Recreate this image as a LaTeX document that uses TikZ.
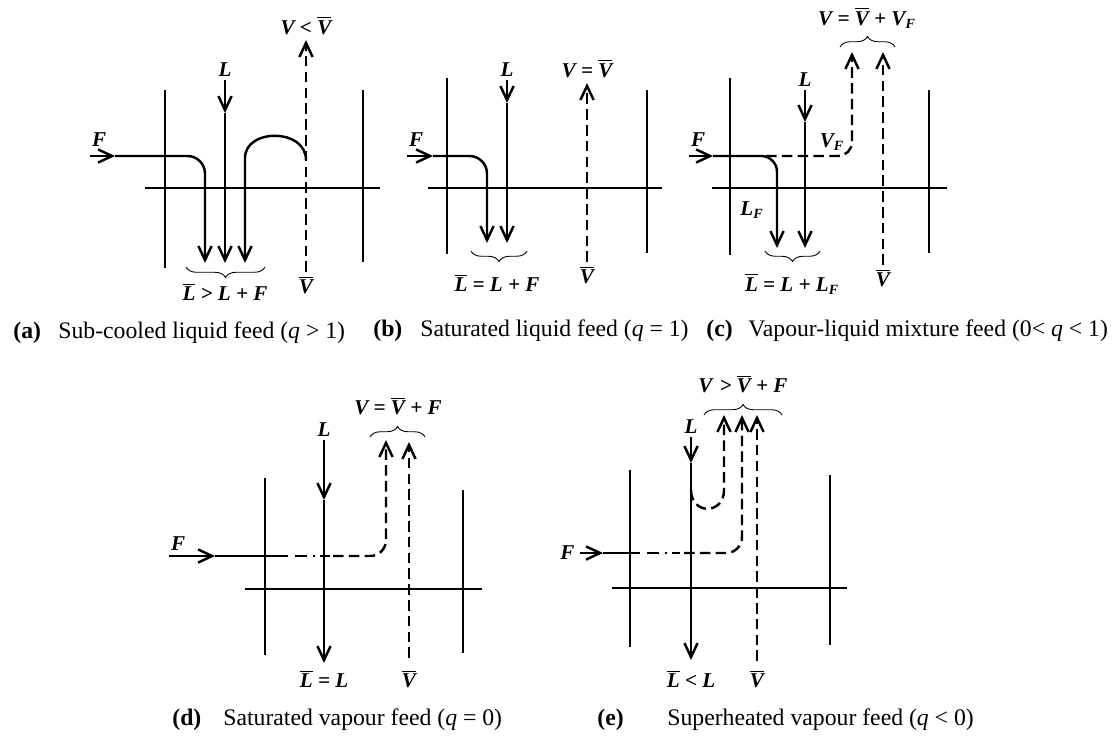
\documentclass[tikz,border=0pt]{standalone}
\usepackage{fontspec}
\setmainfont{Liberation Serif}
\usetikzlibrary{arrows.meta,positioning,decorations.pathreplacing}
\newcommand{\topbar}[1]{$\overline{\mbox{#1}}$}

\begin{document}
\begin{tikzpicture}[x=0.02cm,y=-0.02cm,
  wall/.style={line width=1.4pt},
  flow/.style={line width=1.4pt,-{Straight Barb[length=8pt,width=7.5pt]}},
  vap/.style={flow,dash pattern=on 6pt off 3pt},
  lab/.style={font=\fontsize{12}{14}\selectfont\bfseries\itshape,inner sep=1pt},
  captext/.style={font=\fontsize{13.5}{16}\selectfont,anchor=west,inner sep=0pt},
  brc/.style={decorate,decoration={brace,amplitude=6pt},line width=0.5pt},
]
\useasboundingbox (0,0) rectangle (1118,738);

% (a) sub-cooled liquid
\draw[wall] (165,90) -- (165,268);
\draw[wall] (363,90) -- (363,262);
\draw[wall] (145,188) -- (380,188);
\coordinate (aF) at (90,156);
\coordinate (aFm) at (115,156);
\coordinate (aLt) at (225,80);
\coordinate (aLm) at (225,113);
\coordinate (aVt) at (306,40);
\coordinate (aVb) at (306,272);
\draw[flow] (aF) -- (aFm);
\draw[flow,rounded corners=10pt] (aFm) -- (205,156) -- (205,263);
\draw[flow] (aLt) -- (aLm);
\draw[flow] (aLm) -- (225,263);
\draw[flow] (306,160) .. controls (306,128) and (245,128) .. (245,158) -- (245,263);
\draw[vap] (aVb) -- (aVt);
\draw[brc] (265,267) -- (186,267);
\node[lab,above=4pt of aF,anchor=south west] (aFl) {F};
\node[lab,above=1pt of aLt] (aLl) {L};
\node[lab,above=2pt of aVt] (aVl) {V < \topbar{V}};
\node[lab,below=1pt of aVb] (aVbl) {\topbar{V}};
\node[lab] (aLbl) at (225,292) {\topbar{L} > L + F};

% (b) saturated liquid
\draw[wall] (447,78) -- (447,254);
\draw[wall] (647,90) -- (647,253);
\draw[wall] (428,188) -- (662,188);
\coordinate (bF) at (407,156);
\coordinate (bFm) at (433,156);
\coordinate (bLt) at (507,80);
\coordinate (bLm) at (507,103);
\coordinate (bVt) at (587,83);
\coordinate (bVb) at (587,262);
\draw[flow] (bF) -- (bFm);
\draw[flow,rounded corners=10pt] (bFm) -- (487,156) -- (487,243);
\draw[flow] (bLt) -- (bLm);
\draw[flow] (bLm) -- (507,243);
\draw[vap] (bVb) -- (bVt);
\draw[brc] (527,251) -- (471,251);
\node[lab,above=4pt of bF,anchor=south west] (bFl) {F};
\node[lab,above=1pt of bLt] (bLl) {L};
\node[lab,above=2pt of bVt] (bVl) {V = \topbar{V}};
\node[lab,below=1pt of bVb] (bVbl) {\topbar{V}};
\node[lab] (bLbl) at (497,283) {\topbar{L} = L + F};

% (c) vapour-liquid mixture
\draw[wall] (730,78) -- (730,255);
\draw[wall] (929,90) -- (929,253);
\draw[wall] (712,188) -- (947,188);
\coordinate (cF) at (689,156);
\coordinate (cFm) at (713,156);
\coordinate (cLt) at (805,90);
\coordinate (cLm) at (805,122);
\coordinate (cVt) at (883,52);
\coordinate (cVb) at (883,265);
\draw[flow] (cF) -- (cFm);
\draw[flow,rounded corners=9pt] (cFm) -- (777,156) -- (777,248);
\draw[vap,rounded corners=8pt] (766,156) -- (852,156) -- (852,52);
\draw[flow] (cLt) -- (cLm);
\draw[flow] (cLm) -- (805,248);
\draw[vap] (cVb) -- (cVt);
\draw[brc] (820,251) -- (765,251);
\draw[brc] (840,47) -- (895,47);
\node[lab,above=4pt of cF,anchor=south west] (cFl) {F};
\node[lab,above=1pt of cLt] (cLl) {L};
\node[lab] (cVFl) at (832,142) {V\textsubscript{F}};
\node[lab] (cLFl) at (752,210) {L\textsubscript{F}};
\node[lab,below=1pt of cVb] (cVbl) {\topbar{V}};
\node[lab] (cVl) at (867,18) {V = \topbar{V} + V\textsubscript{F}};
\node[lab] (cLbl) at (792,284) {\topbar{L} = L + L\textsubscript{F}};

% (d) saturated vapour
\draw[wall] (265,478) -- (265,655);
\draw[wall] (463,490) -- (463,653);
\draw[wall] (245,589) -- (482,589);
\coordinate (dF) at (169,556);
\coordinate (dFm) at (215,556);
\coordinate (dLt) at (324,440);
\coordinate (dLm) at (324,500);
\coordinate (dVt) at (409,442);
\coordinate (dVb) at (409,658);
\draw[flow] (dF) -- (dFm);
\draw[wall] (dFm) -- (288,556);
\draw[wall,dash pattern=on 7pt off 3pt on 1.5pt off 3pt] (295,556) -- (330,556);
\draw[vap,rounded corners=9pt] (333,556) -- (386,556) -- (386,440);
\draw[flow] (dLt) -- (dLm);
\draw[flow] (dLm) -- (324,663);
\draw[vap] (dVb) -- (dVt);
\draw[brc] (370,437) -- (425,437);
\node[lab,above=2pt of dF,anchor=south west] (dFl) {F};
\node[lab,above=1pt of dLt] (dLl) {L};
\node[lab] (dVl) at (398,406) {V = \topbar{V} + F};
\node[lab] (dLbl) at (324,679) {\topbar{L} = L};
\node[lab] (dVbl) at (409,679) {\topbar{V}};

% (e) superheated vapour
\draw[wall] (630,470) -- (630,647);
\draw[wall] (830,475) -- (830,645);
\draw[wall] (612,588) -- (847,588);
\coordinate (eF) at (580,553);
\coordinate (eFm) at (603,553);
\coordinate (eLt) at (691,437);
\coordinate (eLm) at (691,463);
\coordinate (eVt) at (757,415);
\coordinate (eVb) at (757,661);
\draw[flow] (eF) -- (eFm);
\draw[wall] (eFm) -- (640,553);
\draw[wall,dash pattern=on 7pt off 3pt on 1.5pt off 3pt] (647,553) -- (680,553);
\draw[vap,rounded corners=9pt] (684,553) -- (742,553) -- (742,415);
\draw[flow] (eLt) -- (eLm);
\draw[flow] (eLm) -- (691,660);
\draw[vap] (691,490) .. controls (691,515) and (724,515) .. (724,490) -- (724,415);
\draw[vap] (eVb) -- (eVt);
\draw[brc] (704,415) -- (782,415);
\node[lab,left=2pt of eF] (eFl) {F};
\node[lab,above=1pt of eLt] (eLl) {L};
\node[lab] (eVl) at (743,384) {V\,\,> \topbar{V} + F};
\node[lab] (eLbl) at (691,679) {\topbar{L} < L};
\node[lab] (eVbl) at (757,679) {\topbar{V}};

% captions
\node[captext] (capa) at (13,333) {\textbf{(a)}};
\node[captext] (capat) at (58,333) {Sub-cooled liquid feed (\textit{q} > 1)};
\node[captext] (capb) at (373,331) {\textbf{(b)}};
\node[captext] (capbt) at (420,331) {Saturated liquid feed (\textit{q} = 1)};
\node[captext] (capc) at (706,331) {\textbf{(c)}};
\node[captext] (capct) at (748,331) {Vapour-liquid mixture feed (0< \textit{q} < 1)};
\node[captext] (capd) at (172,720) {\textbf{(d)}};
\node[captext] (capdt) at (223,720) {Saturated vapour feed (\textit{q} = 0)};
\node[captext] (cape) at (597,720) {\textbf{(e)}};
\node[captext] (capet) at (667,720) {Superheated vapour feed (\textit{q} < 0)};
\end{tikzpicture}
\end{document}
